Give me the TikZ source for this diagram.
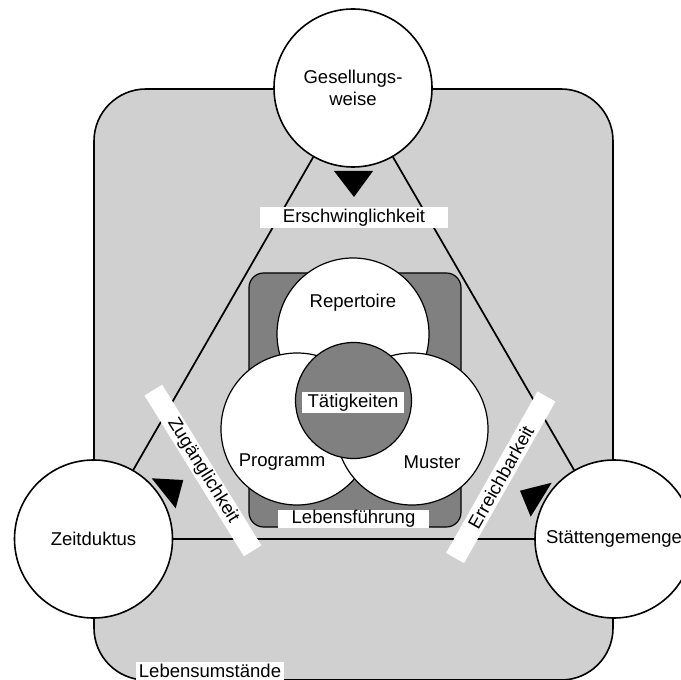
\documentclass[tikz,border=0pt]{standalone}
\usepackage{fontspec}
\setmainfont{Liberation Sans}
\definecolor{lightg}{RGB}{208,208,208}
\definecolor{darkg}{RGB}{128,128,128}
\begin{document}
\begin{tikzpicture}[x=0.75pt,y=-0.75pt,
  txt/.style={font=\fontsize{13.9pt}{16.5pt}\selectfont},
  bigc/.style={circle, draw=black, line width=1.2pt, fill=white, minimum size=118.5pt, inner sep=0pt, align=center, txt},
  innc/.style={circle, draw=black, line width=0.9pt, fill=white, minimum size=114pt, inner sep=0pt},
  conn/.style={draw=black, line width=1.3pt},
  band/.style={fill=white, inner sep=0pt, minimum height=15.5pt, txt},
  lab/.style={fill=white, inner sep=0pt, txt},
  tri/.style={fill=black}
]
\useasboundingbox (0,0) rectangle (681,680);
% outer area
\draw[fill=lightg, line width=1.2pt, rounded corners=39pt] (94,89) rectangle (613,680);
% inner area
\draw[fill=darkg, line width=0.9pt, rounded corners=11pt] (249,273) rectangle (461,527);
\node[innc] (rep) at (353,334) {};
\node[innc] (prog) at (297,429) {};
\node[innc] (must) at (412,429) {};
\node[innc, fill=darkg, minimum size=87pt] (taet) at (353.5,400.5) {};
\node[txt] (reptxt) at (353,303) {Repertoire};
\node[txt] (progtxt) at (282,462) {Programm};
\node[txt] (musttxt) at (432,462) {Muster};
\node[lab, minimum width=76.5pt, minimum height=15.75pt] (taetlab) at (353,402.5) {Tätigkeiten};
\node[lab, minimum width=113pt, minimum height=13.5pt] (lebf) at (353.5,519) {Lebensführung};
% outer circles
\node[bigc] (G) at (353,88) {Gesellungs-\\weise};
\node[bigc] (Z) at (93.5,539) {Zeitduktus};
\node[bigc] (S) at (614,539) {Stättengemenge};
% connectors
\draw[conn] (G) -- (Z);
\draw[conn] (G) -- (S);
\draw[conn] (Z) -- (S);
% bands
\node[band, rotate=-58.3, minimum width=141.75pt] (zug) at (203,470.5) {Zugänglichkeit};
\node[band, rotate=60.5, minimum width=139.2pt] (erre) at (500.75,477.25) {Erreichbarkeit};
\node[lab, minimum width=141pt, minimum height=15.75pt] (ersch) at (354,217.5) {Erschwinglichkeit};
% triangles
\fill[tri] (334,171) -- (373,171) -- (354,197) -- cycle;
\fill[tri] (151.7,478.3) -- (183.3,480) -- (175.7,508.3) -- cycle;
\fill[tri] (520,490.7) -- (551.7,482.7) -- (530.7,516.7) -- cycle;
% bottom label
\node[lab, minimum width=111pt, minimum height=13.5pt] (lebu) at (210,670.5) {Lebensumstände};
\end{tikzpicture}
\end{document}
